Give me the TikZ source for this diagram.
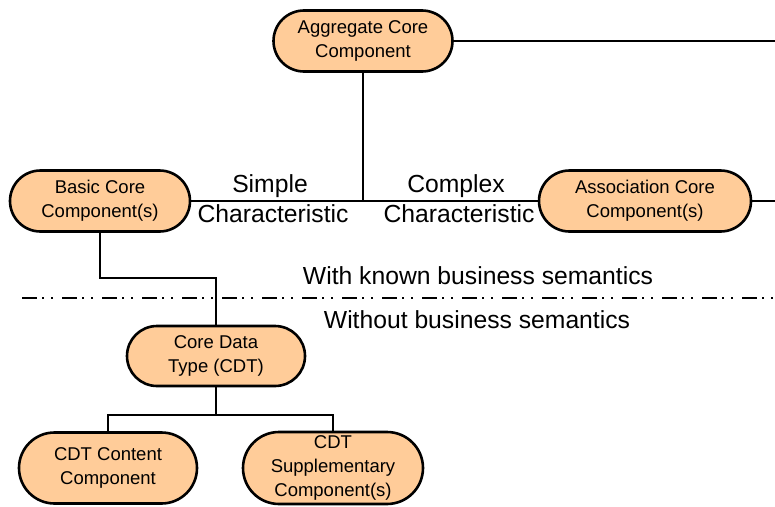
\documentclass[tikz,border=0pt]{standalone}
\usepackage{fontspec}
\setmainfont{Liberation Sans}
\usetikzlibrary{shapes.misc}
\definecolor{peach}{HTML}{FFCC99}
\tikzset{
  comp/.style={rounded rectangle, draw=black, line width=2.6pt, fill=peach,
    align=center, inner sep=0pt, font=\fontsize{18.5}{24}\selectfont},
  conn/.style={line width=1.6pt},
  lbl/.style={align=center, inner sep=0pt, font=\fontsize{24.7}{28}\selectfont},
  dashdotdot/.style={line width=1.8pt, dash pattern=on 15pt off 5pt on 1.5pt off 7.5pt on 1.5pt off 9.5pt}
}
\begin{document}
\begin{tikzpicture}[x=1pt,y=-1pt]
\useasboundingbox (0,0) rectangle (775,506);
\node[comp, minimum width=179pt, minimum height=61pt] (agg) at (363,41) {Aggregate Core\\Component};
\node[comp, minimum width=180pt, minimum height=61pt] (bcc) at (100,201) {Basic Core\\Component(s)};
\node[comp, minimum width=212pt, minimum height=61pt] (ascc) at (645,201) {Association Core\\Component(s)};
\node[comp, minimum width=178pt, minimum height=60pt] (cdt) at (216,356) {Core Data\\Type (CDT)};
\node[comp, minimum width=178pt, minimum height=71pt] (cont) at (108,468) {CDT Content\\Component};
\node[comp, minimum width=180pt, minimum height=72pt] (supp) at (333,468) {CDT\\Supplementary\\Component(s)};

\coordinate (aggR) at (775,41);
\coordinate (ascR) at (775,201);
\coordinate (j1) at (216,278);
\coordinate (j2) at (216,415);
\coordinate (dl) at (22,298);
\coordinate (dr) at (775,298);

\node[lbl] (simple) at (270,186) {Simple};
\node[lbl] (schar) at (273,214) {Characteristic};
\node[lbl] (complex) at (456,186) {Complex};
\node[lbl] (cchar) at (459,214) {Characteristic};
\node[lbl] (with) at (478,276) {With known business semantics};
\node[lbl] (without) at (477,320) {Without business semantics};

\draw[conn] (agg.east) -- (aggR);
\draw[conn] (ascc.east) -- (ascR);
\draw[conn] (agg.south) -- (agg.south |- bcc.east);
\draw[conn] (bcc.east) -- (ascc.west);
\draw[conn] (bcc.south) |- (j1) -- (cdt.north);
\draw[conn] (cdt.south) -- (j2);
\draw[conn] (cont.north) -- (cont.north |- j2) -- (supp.north |- j2) -- (supp.north);
\draw[dashdotdot] (dl) -- (dr);
\end{tikzpicture}
\end{document}
